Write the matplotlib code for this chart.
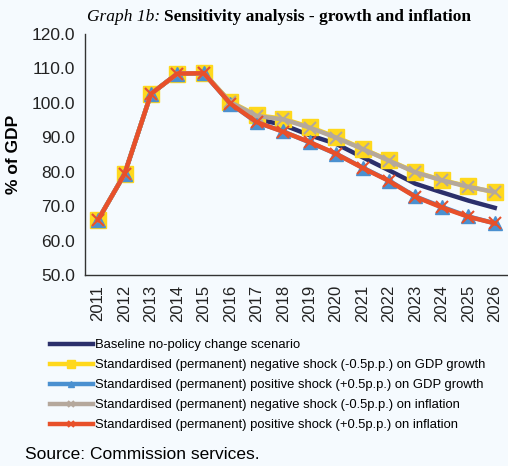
import matplotlib.pyplot as plt
import numpy as np

years = list(range(2011, 2027))
baseline = [66.0, 79.3, 102.6, 108.5, 108.6, 100.0, 95.3, 93.6, 90.6, 88.1, 84.2, 80.4, 76.5, 74.0, 71.6, 69.5]
neg_gdp = [66.0, 79.3, 102.6, 108.5, 108.6, 100.3, 96.4, 95.4, 93.0, 90.1, 86.7, 83.3, 79.9, 77.6, 75.7, 74.0]
pos_gdp = [66.0, 79.3, 102.6, 108.5, 108.6, 99.8, 94.3, 91.7, 88.5, 85.2, 81.2, 77.4, 72.8, 69.8, 67.0, 65.0]
neg_infl = [66.0, 79.3, 102.6, 108.5, 108.6, 100.2, 96.2, 95.2, 92.8, 89.9, 86.6, 83.2, 79.8, 77.5, 75.6, 74.1]
pos_infl = [66.0, 79.3, 102.6, 108.5, 108.6, 99.8, 94.4, 91.6, 88.6, 85.2, 81.1, 77.3, 72.7, 69.6, 66.9, 65.0]

labels = [
    "Baseline no-policy change scenario",
    "Standardised (permanent) negative shock (-0.5p.p.) on GDP growth",
    "Standardised (permanent) positive shock (+0.5p.p.) on GDP growth",
    "Standardised (permanent) negative shock (-0.5p.p.) on inflation",
    "Standardised (permanent) positive shock (+0.5p.p.) on inflation",
]

plt.rcParams["font.family"] = ["Liberation Sans", "DejaVu Sans"]

bg = "#F5FAFE"
fig = plt.figure(figsize=(5.08, 4.66), dpi=100, facecolor=bg)
ax = fig.add_axes([0.167, 0.41, 0.833, 0.517], facecolor=bg)

x = np.array(years)
ax.plot(x, baseline, color="#2B2F6B", lw=3.2, label=labels[0], zorder=2)
ax.plot(x, neg_gdp, color="#FFD81C", lw=3.2, marker="s", ms=11, mec="#FFD81C", label=labels[1], zorder=3)
ax.plot(x, pos_gdp, color="#4A90D0", lw=3.2, marker="^", ms=10, mec="#4A90D0", label=labels[2], zorder=4)
ax.plot(x, neg_infl, color="#B5A89C", lw=3.2, marker="x", ms=9, mew=1.5, label=labels[3], zorder=5)
ax.plot(x, pos_infl, color="#E8502A", lw=3.2, marker="x", ms=9, mew=1.5, label=labels[4], zorder=6)

ax.set_xlim(2010.5, 2026.5)
ax.set_ylim(50, 120)
ax.set_yticks(np.arange(50, 121, 10))
ax.set_yticklabels([f"{v:.1f}" for v in np.arange(50, 121, 10)], fontsize=12.5, color="#222222")
ax.set_xticks(years)
ax.set_xticklabels([str(y) for y in years], rotation=90, fontsize=12, color="#222222")
ax.tick_params(length=0, pad=7)
ax.set_ylabel("% of GDP", fontsize=12.5, fontweight="bold", labelpad=8)
for s in ["top", "right"]:
    ax.spines[s].set_visible(False)
for s in ["left", "bottom"]:
    ax.spines[s].set_color("#333333")
    ax.spines[s].set_linewidth(1.0)

fig.text(0.171, 0.955, "Graph 1b:", fontsize=12.5, style="italic", family="Liberation Serif")
fig.text(0.322, 0.955, "Sensitivity analysis - growth and inflation", fontsize=12.5,
         fontweight="bold", family="Liberation Serif")

handles, lbls = ax.get_legend_handles_labels()
fig.legend(handles, lbls, loc="upper left", bbox_to_anchor=(0.088, 0.283), frameon=False,
           fontsize=9.4, handlelength=3.3, handletextpad=0.15, labelspacing=0.6,
           markerscale=0.5, borderaxespad=0)

fig.text(0.05, 0.015, "Source: Commission services.", fontsize=12.5)

fig.savefig("out.png", dpi=100, facecolor=bg)
